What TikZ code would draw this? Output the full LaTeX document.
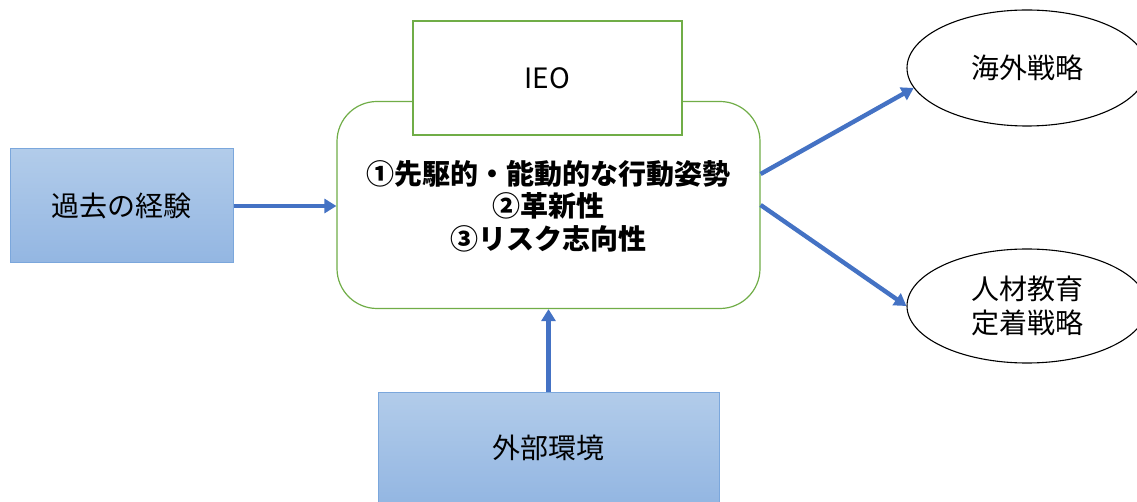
\documentclass[tikz,border=0pt]{standalone}
\usepackage{fontspec}
\setmainfont{Noto Sans CJK JP}
\usetikzlibrary{arrows.meta,shapes.geometric}
\definecolor{arrowblue}{HTML}{4472C4}
\definecolor{boxtop}{HTML}{B2CCEA}
\definecolor{boxbot}{HTML}{93B6E2}
\definecolor{boxline}{HTML}{7BA7DC}
\definecolor{frame}{HTML}{70AD47}
\begin{document}
\begin{tikzpicture}[x=1pt,y=-1pt,
  every node/.style={font=\fontsize{28}{34}\selectfont, inner sep=0pt},
  bluebox/.style={draw=boxline, line width=1pt, top color=boxtop, bottom color=boxbot},
  roundbox/.style={draw=frame, line width=1.2pt, rounded corners=40pt, fill=white},
  ieobox/.style={draw=frame, line width=1.2pt, fill=white},
  oval/.style={draw=black, line width=1.1pt, ellipse, fill=white, align=center},
  arr/.style={draw=arrowblue, line width=4.4pt, -{Triangle[length=12pt,width=14pt]}}]
\useasboundingbox (0,0) rectangle (1137,502);
\clip (0,0) rectangle (1137,502);
\fill[white] (0,0) rectangle (1137,502);
\node[bluebox, minimum width=223pt, minimum height=114pt] (past) at (121.5,206) {過去の経験};
\node[roundbox, minimum width=423pt, minimum height=207pt] (core) at (548.5,205) {};
\node[ieobox, minimum width=269pt, minimum height=114pt] (ieo) at (547.5,78) {IEO};
\node[align=center, font=\fontsize{28}{32.5}\selectfont\bfseries] (attr) at (548,206) {①先駆的・能動的な行動姿勢\\②革新性\\③リスク志向性};
\node[oval, minimum width=240pt, minimum height=116pt] (over) at (1027,68) {海外戦略};
\node[oval, minimum width=240pt, minimum height=114pt] (hr) at (1027,306) {人材教育\\定着戦略};
\node[bluebox, minimum width=341pt, minimum height=112pt] (env) at (548.5,448) {外部環境};
\draw[arr] (past.east) -- (past.east -| core.west);
\draw[arr] ([yshift=31pt]core.east) -- (over.190);
\draw[arr] (core.east) -- (hr.west);
\draw[arr] (env.north) -- (core.south);
\end{tikzpicture}
\end{document}
